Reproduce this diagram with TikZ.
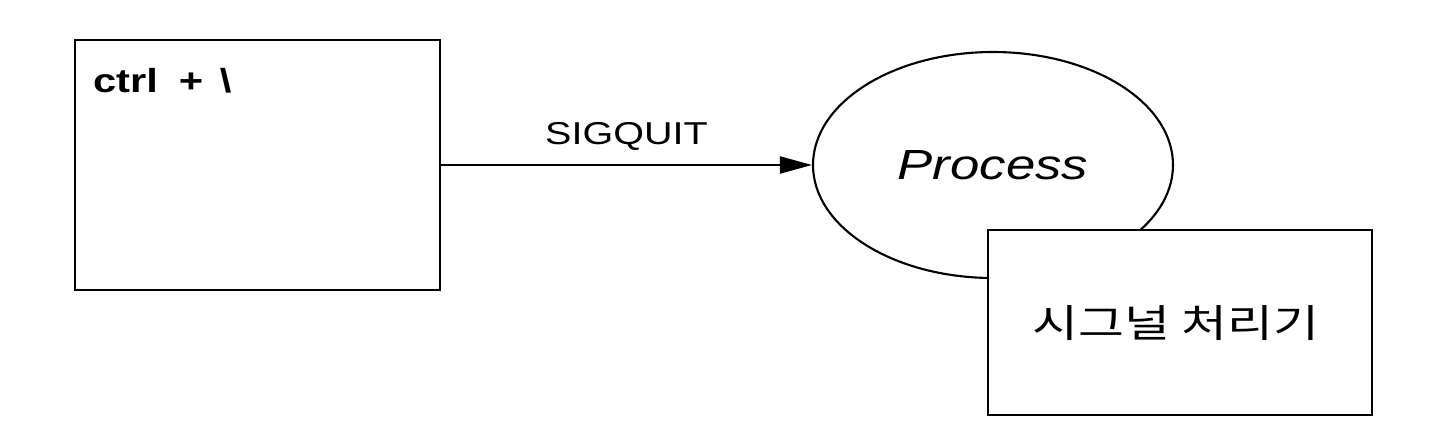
\documentclass[tikz,border=0pt]{standalone}
\usepackage{fontspec}
\setmainfont[FakeStretch=1.25]{Liberation Sans}
\newfontfamily\krfont[FakeStretch=1.29]{Noto Sans CJK KR}
\usetikzlibrary{shapes.geometric,arrows.meta,positioning}

\begin{document}
\begin{tikzpicture}[->,>={Triangle[length=3.2mm,width=1.7mm]},line width=0.6pt,auto]
\tikzstyle{every node}=[text=black]
\tikzstyle{panel}=[draw=black,fill=white,rectangle,inner sep=0pt]
\useasboundingbox (0,0) rectangle (14.4,4.35);

        \node[panel,minimum width=3.65cm,minimum height=2.5cm]              (key)     at (2.575,2.70) {};
        \node[inner sep=0pt,anchor=north west,font=\bfseries\fontsize{9.5pt}{11}\selectfont]
                                                                            (keytxt)  at ([xshift=1.8mm,yshift=-2.8mm]key.north west) {ctrl\hspace{0.28em} +\hspace{0.15em} \textbackslash};

        \node[ellipse,draw=black,inner sep=0pt,minimum width=3.6cm,minimum height=2.26cm,
              font=\itshape\fontsize{12pt}{14}\selectfont]                  (proc)    at (9.93,2.70) {Process};

        \node[panel,minimum width=3.84cm,minimum height=1.85cm]             (handler) at (11.80,1.125) {};
        \node[inner sep=0pt,font=\krfont\fontsize{11pt}{13}\selectfont]     (hdltxt)  at (11.76,1.12) {시그널 처리기};

        \path[->]
        (key)   edge node[inner sep=1.3mm,font=\fontsize{9pt}{11}\selectfont] {SIGQUIT}   (proc)
        ; %end path

\end{tikzpicture}
\end{document}
